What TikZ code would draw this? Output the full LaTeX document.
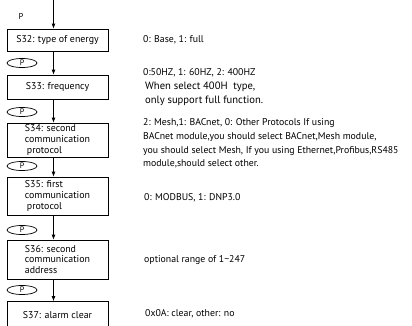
\documentclass[tikz,border=0pt]{standalone}
\usepackage{fontspec}
\setmainfont{PT Sans}
\usetikzlibrary{arrows.meta,positioning,shapes.geometric,calc}

\begin{document}
\begin{tikzpicture}[
  x=1pt, y=-1pt,
  menu/.style={draw, line width=0.8pt, minimum width=101pt, inner sep=1pt,
    font=\fontsize{9.9}{10.7}\selectfont, align=left},
  pkey/.style={draw, ellipse, line width=0.7pt, minimum width=30pt, minimum height=9pt,
    inner sep=0pt, font=\fontsize{8}{8}\selectfont},
  note/.style={anchor=west, inner sep=0pt, font=\fontsize{9.8}{13.6}\selectfont, align=left},
  bignote/.style={anchor=west, inner sep=0pt, font=\fontsize{10.6}{14}\selectfont, align=left},
  flow/.style={draw, line width=0.8pt, -{Latex[length=5pt,width=4pt]}}
]
  \clip (0,0) rectangle (412,325);

  % menu chain
  \coordinate (start) at (53.5,0);
  \node[font=\fontsize{8.5}{8.5}\selectfont] (ptop) at (21,16) {P};
  \node[menu, minimum height=22pt] (s32) at (57.5,40) {S32: type of energy};
  \node[menu, minimum height=24pt] (s33) at (57.5,87) {S33: frequency};
  \node[menu, minimum height=34pt] (s34) at (57.5,140)
    {S34: second\\communication\\\hspace{2pt}protocol};
  \node[menu, minimum height=38pt] (s35) at (57.5,196)
    {S35: first\\communication\\\hspace{2pt}protocol};
  \node[menu, minimum height=39pt] (s36) at (57.5,259.5)
    {S36: second\\communication\\address};
  \node[menu, minimum height=28pt] (s37) at (57.5,315.5) {S37: alarm clear};

  % P keys
  \node[pkey] (k33) at (22,63) {P};
  \node[pkey] (k34) at (22,112) {P};
  \node[pkey] (k35) at (22,166) {P};
  \node[pkey] (k36) at (22,230) {P};
  \node[pkey] (k37) at (22,290) {P};

  \draw[flow] (start) -- (start |- s32.north);
  \foreach \a/\b in {s32/s33, s33/s34, s34/s35, s35/s36, s36/s37}
    \draw[flow] (start |- \a.south) -- (start |- \b.north);

  % settings
  \node[note] (d32) at (143,40) {0: Base, 1: full};
  \node[note] (d33) at (143,73) {0:50HZ, 1: 60HZ, 2: 400HZ};
  \node[bignote] (d33b) at (145,94)
    {When select 400H\ \ type,\\only support full function.};
  \node[note] (d34) at (143,143.5)
    {2: Mesh,1: BACnet, 0: Other Protocols If using\\
     BACnet module,you should select BACnet,Mesh module,\\
     you should select Mesh, If you using Ethernet,Profibus,RS485\\
     module,should select other.};
  \node[note] (d35) at (144,198) {0: MODBUS, 1: DNP3.0};
  \node[note] (d36) at (144,260) {optional range of 1\textasciitilde247};
  \node[note] (d37) at (145,314) {0x0A: clear, other: no};
\end{tikzpicture}
\end{document}
